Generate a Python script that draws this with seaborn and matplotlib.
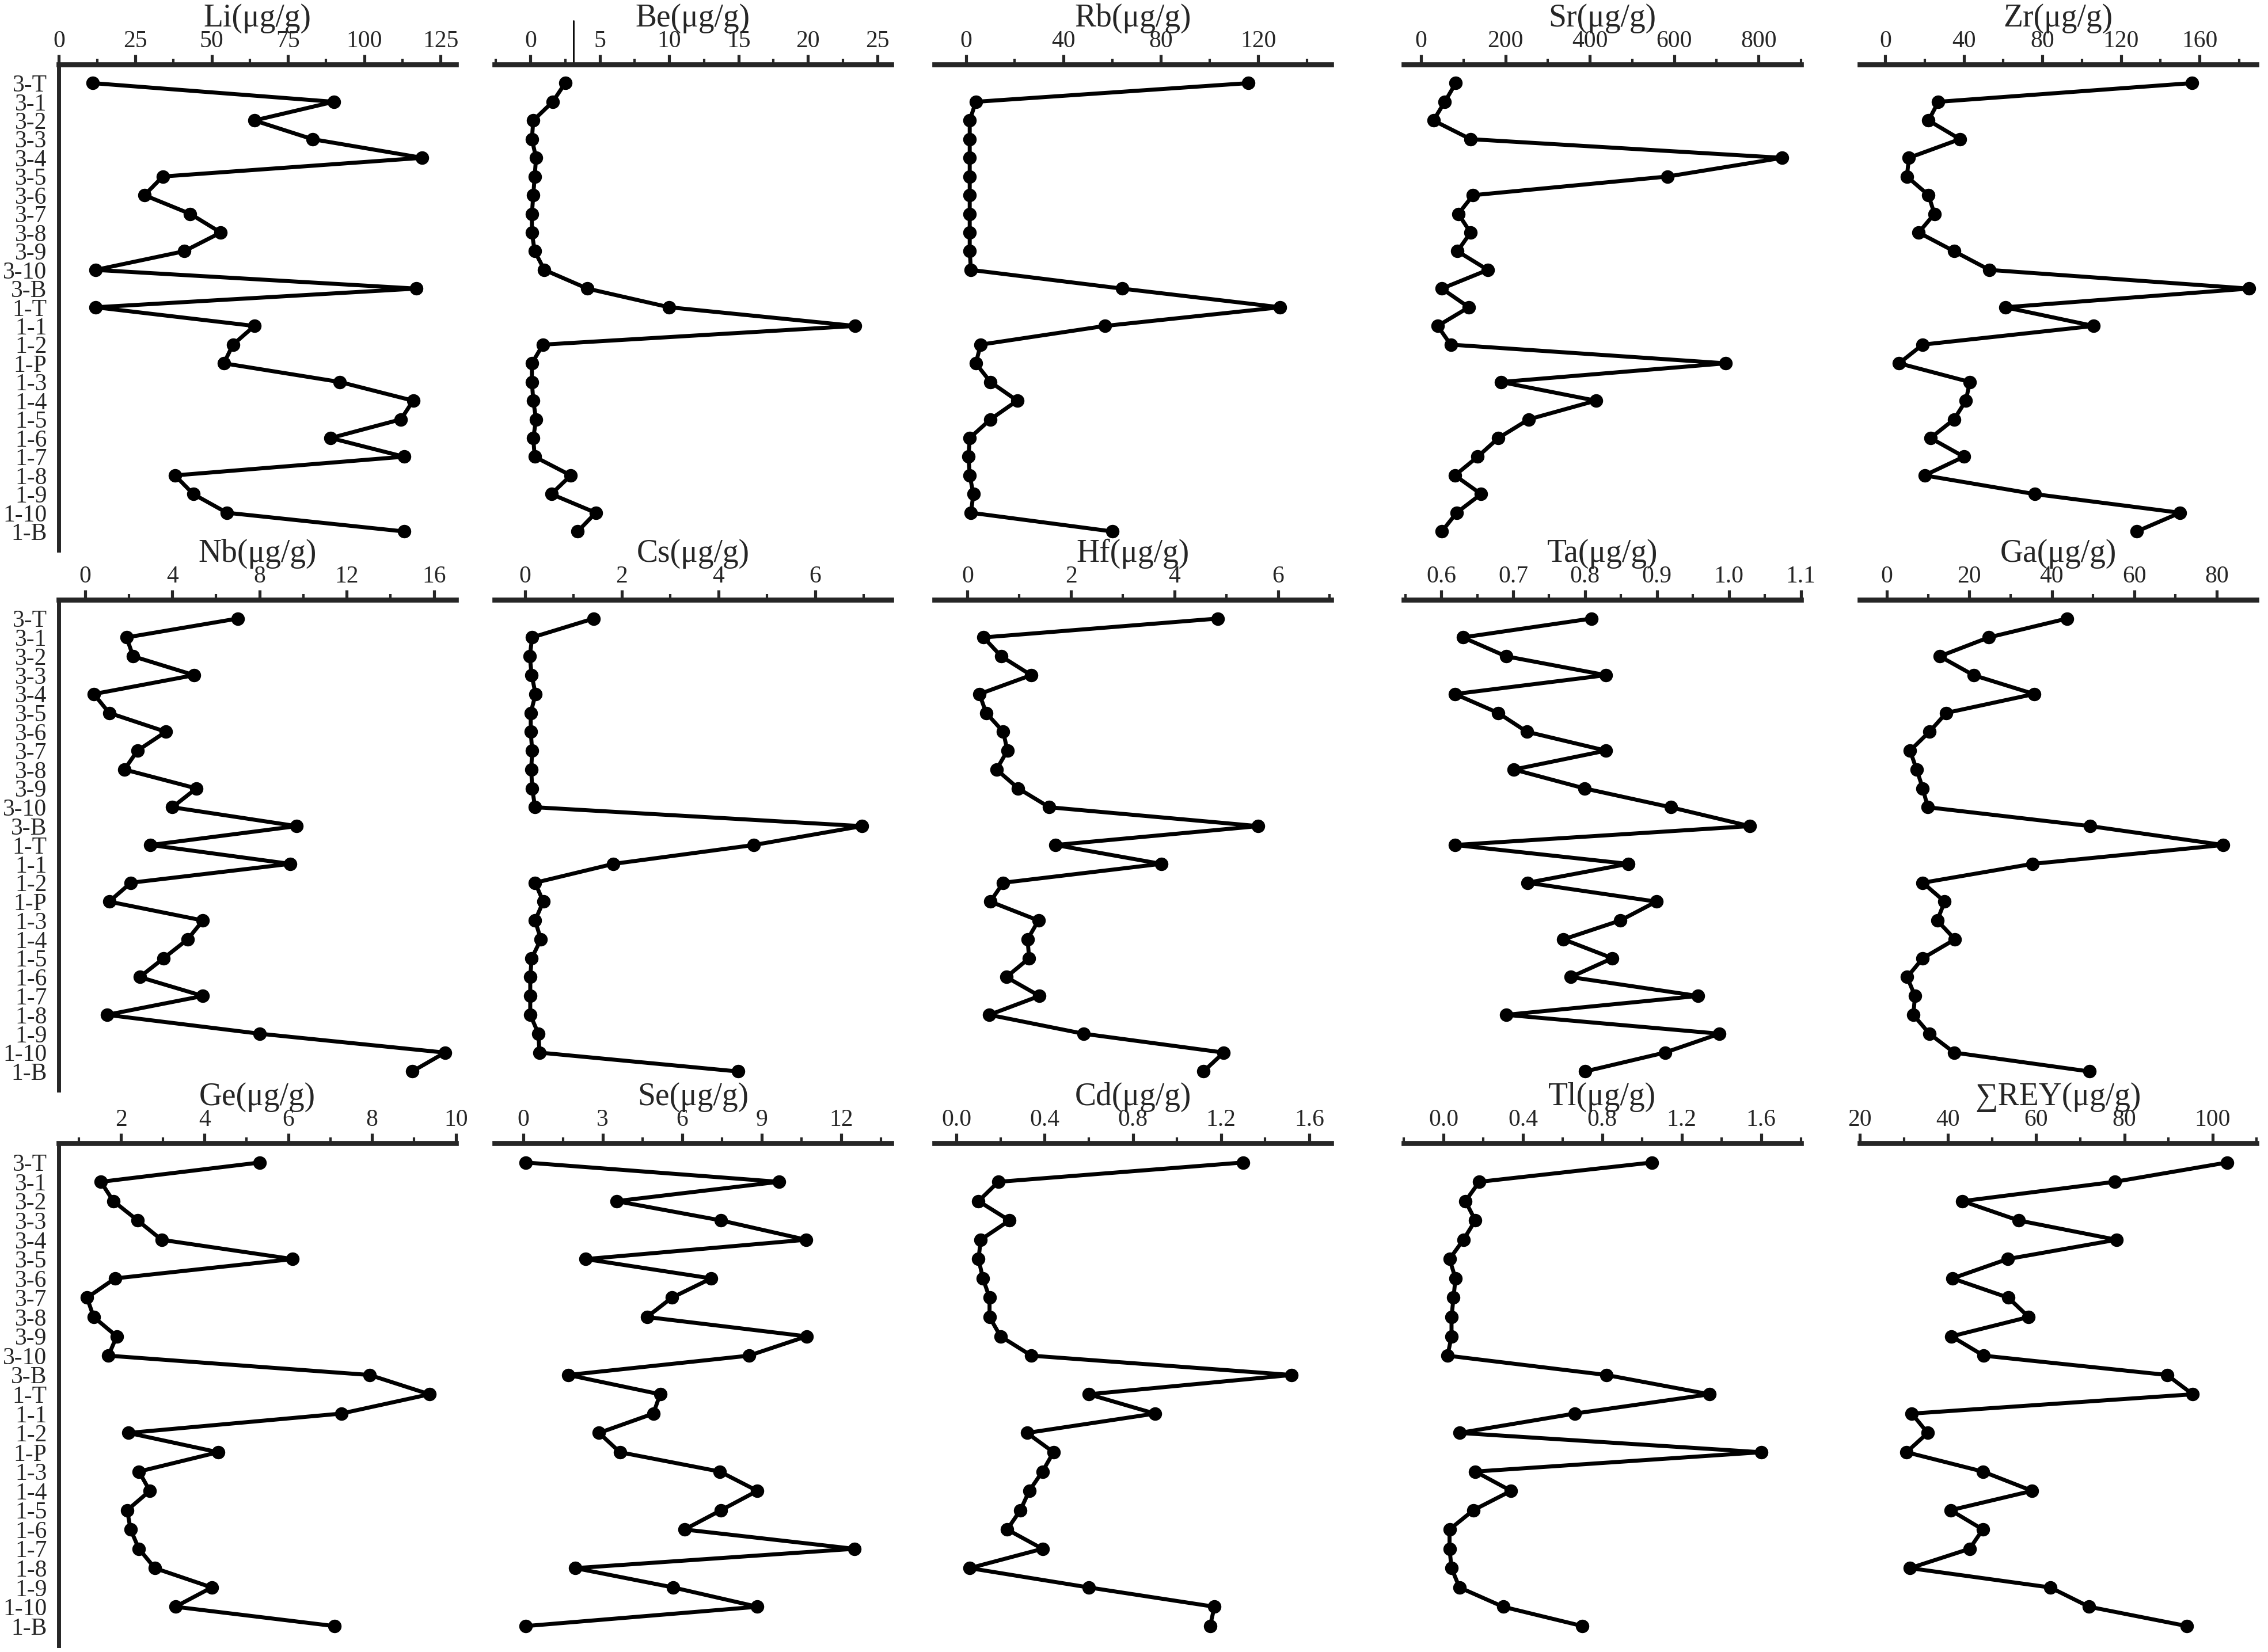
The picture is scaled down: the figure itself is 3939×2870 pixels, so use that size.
import numpy as np
import matplotlib
matplotlib.use("Agg")
import matplotlib.pyplot as plt
from matplotlib.ticker import MultipleLocator, FormatStrFormatter
import seaborn as sns

samples = ["3-T", "3-1", "3-2", "3-3", "3-4", "3-5", "3-6", "3-7", "3-8", "3-9", "3-10", "3-B",
           "1-T", "1-1", "1-2", "1-P", "1-3", "1-4", "1-5", "1-6", "1-7", "1-8", "1-9", "1-10", "1-B"]

li = [11, 90, 64, 83, 119, 34, 28, 43, 53, 41, 12, 117, 12, 64, 57, 54, 92, 116, 112, 89, 113, 38, 44, 55, 113]
be = [2.5, 1.6, 0.2, 0.1, 0.4, 0.3, 0.2, 0.1, 0.1, 0.3, 1.0, 4.1, 10.0, 23.4, 0.9, 0.1, 0.1, 0.2, 0.4, 0.2, 0.3, 2.9, 1.5, 4.7, 3.4]
rb = [116, 4, 1.5, 1.5, 1.5, 1.5, 1.5, 1.5, 1.5, 1.5, 2, 64, 129, 57, 6, 4, 10, 21, 10, 1.5, 1, 1.5, 3, 2, 60]
sr = [82, 56, 29, 117, 856, 584, 123, 88, 117, 86, 158, 49, 113, 39, 70, 722, 189, 414, 255, 183, 134, 80, 142, 84, 49]
zr = [156, 27, 22, 38, 12, 11, 22, 25, 17, 35, 53, 185, 61, 106, 19, 7, 43, 41, 35, 23, 40, 20, 76, 150, 128]
nb = [7.0, 1.9, 2.2, 5.0, 0.4, 1.1, 3.7, 2.4, 1.8, 5.1, 4.0, 9.7, 3.0, 9.4, 2.1, 1.1, 5.4, 4.7, 3.6, 2.5, 5.4, 1.0, 8.0, 16.5, 15.0]
cs = [1.42, 0.15, 0.10, 0.14, 0.22, 0.12, 0.12, 0.15, 0.13, 0.15, 0.21, 6.96, 4.73, 1.83, 0.21, 0.38, 0.21, 0.33, 0.14, 0.11, 0.11, 0.11, 0.28, 0.30, 4.40]
hf = [4.84, 0.31, 0.65, 1.23, 0.23, 0.36, 0.69, 0.77, 0.56, 0.98, 1.58, 5.62, 1.70, 3.74, 0.69, 0.44, 1.37, 1.16, 1.19, 0.75, 1.39, 0.42, 2.24, 4.95, 4.56]
ta = [0.809, 0.630, 0.690, 0.829, 0.619, 0.679, 0.719, 0.829, 0.701, 0.799, 0.919, 1.029, 0.619, 0.860, 0.720, 0.899, 0.849, 0.770, 0.838, 0.780, 0.957, 0.690, 0.987, 0.911, 0.800]
ga = [43.7, 24.7, 12.8, 21.0, 35.7, 14.4, 10.3, 5.6, 7.2, 8.7, 9.9, 49.3, 81.6, 35.3, 8.7, 14.0, 12.2, 16.5, 8.7, 4.9, 6.8, 6.4, 10.3, 16.3, 49.1]
ge = [5.32, 1.52, 1.82, 2.40, 2.97, 6.10, 1.86, 1.19, 1.35, 1.90, 1.70, 7.94, 9.37, 7.26, 2.18, 4.32, 2.43, 2.69, 2.15, 2.23, 2.43, 2.81, 4.17, 3.30, 7.10]
se = [0.09, 9.65, 3.52, 7.47, 10.68, 2.36, 7.10, 5.61, 4.67, 10.70, 8.52, 1.70, 5.17, 4.91, 2.86, 3.65, 7.42, 8.84, 7.47, 6.09, 12.5, 1.97, 5.66, 8.84, 0.09]
cd = [1.30, 0.19, 0.10, 0.24, 0.11, 0.10, 0.12, 0.15, 0.15, 0.20, 0.34, 1.52, 0.60, 0.90, 0.32, 0.44, 0.39, 0.33, 0.29, 0.23, 0.39, 0.06, 0.60, 1.17, 1.15]
tl = [1.05, 0.18, 0.11, 0.16, 0.10, 0.03, 0.06, 0.05, 0.04, 0.04, 0.02, 0.82, 1.34, 0.66, 0.08, 1.60, 0.16, 0.34, 0.15, 0.03, 0.03, 0.04, 0.08, 0.30, 0.70]
rey = [103.3, 77.8, 43.3, 56.0, 78.2, 53.5, 41.0, 53.7, 58.3, 40.8, 48.1, 89.7, 95.5, 31.8, 35.4, 30.6, 47.9, 59.1, 40.6, 47.9, 44.9, 31.4, 63.2, 72.0, 94.2]

# (title, values, xlim, major step, minor step, first tick, label format)
panels = [
    ("Li(μg/g)", li, (0, 130), 25, 12.5, 0, "%d"),
    ("Be(μg/g)", be, (-2.6, 26), 5, 2.5, 0, "%d"),
    ("Rb(μg/g)", rb, (-13, 150), 40, 20, 0, "%d"),
    ("Sr(μg/g)", sr, (-41, 900), 200, 100, 0, "%d"),
    ("Zr(μg/g)", zr, (-13, 189), 40, 20, 0, "%d"),
    ("Nb(μg/g)", nb, (-1.2, 17), 4, 2, 0, "%d"),
    ("Cs(μg/g)", cs, (-0.63, 7.57), 2, 1, 0, "%d"),
    ("Hf(μg/g)", hf, (-0.64, 7.03), 2, 1, 0, "%d"),
    ("Ta(μg/g)", ta, (0.548, 1.1), 0.1, 0.05, 0.6, "%.1f"),
    ("Ga(μg/g)", ga, (-6.6, 89.7), 20, 10, 0, "%d"),
    ("Ge(μg/g)", ge, (0.52, 10), 2, 1, 2, "%d"),
    ("Se(μg/g)", se, (-1.09, 13.9), 3, 1.5, 0, "%d"),
    ("Cd(μg/g)", cd, (-0.1, 1.7), 0.4, 0.2, 0, "%.1f"),
    ("Tl(μg/g)", tl, (-0.2, 1.8), 0.4, 0.2, 0, "%.1f"),
    ("∑REY(μg/g)", rey, (20, 110), 20, 10, 20, "%d"),
]

sns.set_style("white")
plt.rcParams["font.family"] = ["Liberation Serif", "DejaVu Serif"]

fig = plt.figure(figsize=(15.756, 11.48), dpi=250)
lefts = [0.026, 0.218, 0.412, 0.619, 0.820]
rows = [(0.667, 0.961), (0.340, 0.637), (0.004, 0.308)]
width = 0.175
ypos = np.arange(len(samples))

for k, (title, vals, xlim, major, minor, first, fmt) in enumerate(panels):
    r, c = divmod(k, 5)
    bottom, top = rows[r]
    ax = fig.add_axes([lefts[c], bottom, width, top - bottom])
    sns.lineplot(x=vals, y=ypos, sort=False, estimator=None, color="black",
                 linewidth=2.0, marker="o", markersize=6, markeredgecolor="black", ax=ax)
    ax.set_xlim(*xlim)
    ax.set_ylim(len(samples), -1)
    ticks = np.arange(first, xlim[1] + 1e-9, major)
    ax.set_xticks(ticks)
    ax.xaxis.set_major_formatter(FormatStrFormatter(fmt))
    ax.xaxis.set_minor_locator(MultipleLocator(minor))
    ax.xaxis.tick_top()
    ax.tick_params(axis="x", which="major", direction="out", length=5, width=1.5,
                   labelsize=12, pad=1)
    ax.tick_params(axis="x", which="minor", direction="out", length=3, width=1.2)
    for s in ["bottom", "right"]:
        ax.spines[s].set_visible(False)
    ax.spines["top"].set_linewidth(2.5)
    if c == 0:
        ax.spines["left"].set_linewidth(2.0)
        ax.set_yticks(ypos)
        ax.set_yticklabels(samples)
        ax.tick_params(axis="y", direction="out", length=5, width=1.5, labelsize=12, pad=1)
    else:
        ax.spines["left"].set_visible(False)
        ax.set_yticks([])
    ax.annotate(title, xy=(0.5, 1.0), xycoords="axes fraction", xytext=(0, 19),
                textcoords="offset points", ha="center", va="baseline", fontsize=16)
    ax.set_xlabel("")
    ax.set_ylabel("")
    if title.startswith("Be"):
        ax.axvline(3.1, ymin=1.0, ymax=1.09, clip_on=False, color="black", linewidth=0.8)

fig.savefig("out.png", dpi=250)
